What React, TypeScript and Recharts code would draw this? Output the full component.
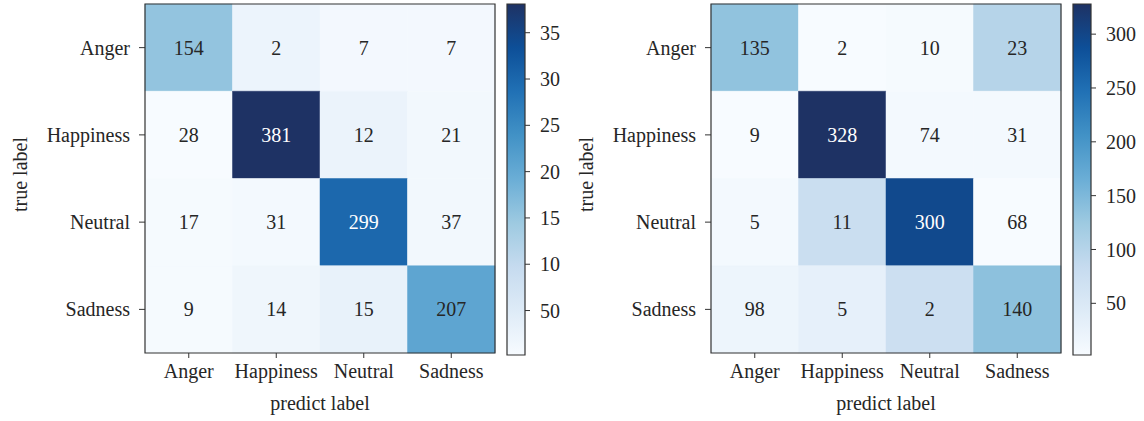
import { ReferenceArea, Scatter, ScatterChart, XAxis, YAxis } from "recharts";

const categories = ["Anger", "Happiness", "Neutral", "Sadness"];

// printed counts
const leftValues = [
  [154, 2, 7, 7],
  [28, 381, 12, 21],
  [17, 31, 299, 37],
  [9, 14, 15, 207]
];
const rightValues = [
  [135, 2, 10, 23],
  [9, 328, 74, 31],
  [5, 11, 300, 68],
  [98, 5, 2, 140]
];

// colour level of each cell as it reads on the colour bar
const leftShades = [
  [154, 22, 10, 10],
  [2, 381, 25, 12],
  [5, 9, 299, 11],
  [5, 17, 30, 207]
];
const rightShades = [
  [135, 2, 5, 100],
  [2, 328, 8, 8],
  [8, 77, 296, 2],
  [18, 30, 73, 138]
];

const leftRange = [2, 381];
const rightRange = [2, 328];

const leftBarTicks = [50, 100, 150, 200, 250, 300, 350];
const leftBarLabels = ["50", "10", "15", "20", "25", "30", "35"];
const rightBarTicks = [50, 100, 150, 200, 250, 300];
const rightBarLabels = ["50", "100", "150", "200", "250", "300"];

const bluesStops = [
  "#f7fbff",
  "#deebf7",
  "#c6dbef",
  "#9ecae1",
  "#6baed6",
  "#4292c6",
  "#2171b5",
  "#0d4f98",
  "#1e3264"
];

const FONT = "'Liberation Serif', 'Times New Roman', serif";
const TEXT = "#262626";
const FRAME = "#333";

function hexToRgb(h: string) {
  return [1, 3, 5].map((i) => parseInt(h.slice(i, i + 2), 16));
}

function blues(t: number) {
  const c = Math.max(0, Math.min(1, t));
  const n = bluesStops.length - 1;
  const p = c * n;
  const i = Math.min(Math.floor(p), n - 1);
  const f = p - i;
  const a = hexToRgb(bluesStops[i]);
  const b = hexToRgb(bluesStops[i + 1]);
  const rgb = a.map((v, k) => Math.round(v + (b[k] - v) * f));
  return `rgb(${rgb.join(",")})`;
}

function buildCells(values: number[][], shades: number[][], range: number[]) {
  const cells: any[] = [];
  values.forEach((row, r) =>
    row.forEach((value, c) => {
      const t = (shades[r][c] - range[0]) / (range[1] - range[0]);
      cells.push({
        row: r,
        col: c,
        x: c + 0.5,
        y: r + 0.5,
        value,
        color: blues(t),
        textColor: t > 0.7 ? "#ffffff" : TEXT
      });
    })
  );
  return cells;
}

const CellText = (props: any) => (
  <text
    x={props.cx}
    y={props.cy}
    textAnchor="middle"
    dominantBaseline="central"
    fontSize={20}
    fontFamily={FONT}
    fill={props.payload.textColor}
  >
    {props.payload.value}
  </text>
);

const NoMark = () => <g />;

const XTitle = (props: any) => {
  const vb = props.viewBox;
  return (
    <text x={vb.x + vb.width / 2} y={vb.y + vb.height - 11} textAnchor="middle" fontSize={20} fill={TEXT}>
      predict label
    </text>
  );
};

const YTitle = (props: any) => {
  const vb = props.viewBox;
  const x = vb.x + 20;
  const y = vb.y + vb.height / 2 - 4;
  return (
    <text
      x={x}
      y={y}
      transform={`rotate(-90, ${x}, ${y})`}
      textAnchor="middle"
      dominantBaseline="central"
      fontSize={20}
      fill={TEXT}
    >
      true label
    </text>
  );
};

function Matrix({ values, shades, range, left }: any) {
  const cells = buildCells(values, shades, range);
  const centers = [0.5, 1.5, 2.5, 3.5];
  return (
    <div style={{ position: "absolute", left, top: 0 }}>
      <ScatterChart width={500} height={421} margin={{ top: 4, right: 5, bottom: 0, left: 0 }}>
        <XAxis
          type="number"
          dataKey="x"
          domain={[0, 4]}
          ticks={centers}
          interval={0}
          tickFormatter={(v) => categories[Math.floor(v)]}
          height={68}
          axisLine={false}
          tickSize={5}
          tickMargin={6}
          tickLine={{ stroke: FRAME }}
          tick={{ fill: TEXT, fontSize: 20 }}
          label={{ content: XTitle }}
        />
        <YAxis
          type="number"
          dataKey="y"
          domain={[0, 4]}
          reversed
          ticks={centers}
          interval={0}
          tickFormatter={(v) => categories[Math.floor(v)]}
          width={145}
          axisLine={false}
          tickSize={6}
          tickMargin={9}
          tickLine={{ stroke: FRAME }}
          tick={{ fill: TEXT, fontSize: 20 }}
          label={{ content: YTitle }}
        />
        {cells.map((c) => (
          <ReferenceArea
            key={`${c.row}-${c.col}`}
            x1={c.col}
            x2={c.col + 1}
            y1={c.row}
            y2={c.row + 1}
            fill={c.color}
            fillOpacity={1}
            stroke={c.color}
            strokeWidth={0.5}
            ifOverflow="visible"
          />
        ))}
        <ReferenceArea x1={0} x2={4} y1={0} y2={4} fill="none" stroke={FRAME} strokeWidth={1.2} ifOverflow="visible" />
        <Scatter data={cells} isAnimationActive={false} shape={CellText} />
      </ScatterChart>
    </div>
  );
}

function ColorBar({ id, range, ticks, labels, left }: any) {
  const ends = [
    { x: 0.5, y: range[0] },
    { x: 0.5, y: range[1] }
  ];
  return (
    <div style={{ position: "absolute", left, top: 0 }}>
      <ScatterChart width={70} height={421} margin={{ top: 4, right: 0, bottom: 66, left: 7 }}>
        <defs>
          <linearGradient id={id} x1="0" y1="1" x2="0" y2="0">
            {bluesStops.map((c, i) => (
              <stop key={i} offset={i / (bluesStops.length - 1)} stopColor={c} />
            ))}
          </linearGradient>
        </defs>
        <XAxis type="number" dataKey="x" domain={[0, 1]} hide />
        <YAxis
          type="number"
          dataKey="y"
          orientation="right"
          domain={range}
          allowDataOverflow
          ticks={ticks}
          interval={0}
          tickFormatter={(v) => labels[ticks.indexOf(v)]}
          width={45}
          axisLine={false}
          tickSize={5}
          tickMargin={10}
          tickLine={{ stroke: FRAME }}
          tick={{ fill: TEXT, fontSize: 20 }}
        />
        <ReferenceArea
          x1={0}
          x2={1}
          y1={range[0]}
          y2={range[1]}
          fill={`url(#${id})`}
          fillOpacity={1}
          stroke={FRAME}
          strokeWidth={1.2}
          ifOverflow="visible"
        />
        <Scatter data={ends} isAnimationActive={false} shape={NoMark} />
      </ScatterChart>
    </div>
  );
}

export default function App() {
  return (
    <div
      style={{
        position: "absolute",
        left: 0,
        top: 0,
        width: 1144,
        height: 421,
        background: "#fff",
        fontFamily: FONT
      }}
    >
      <Matrix values={leftValues} shades={leftShades} range={leftRange} left={0} />
      <ColorBar id="cbarLeft" range={leftRange} ticks={leftBarTicks} labels={leftBarLabels} left={500} />
      <Matrix values={rightValues} shades={rightShades} range={rightRange} left={566} />
      <ColorBar id="cbarRight" range={rightRange} ticks={rightBarTicks} labels={rightBarLabels} left={1066} />
    </div>
  );
}
